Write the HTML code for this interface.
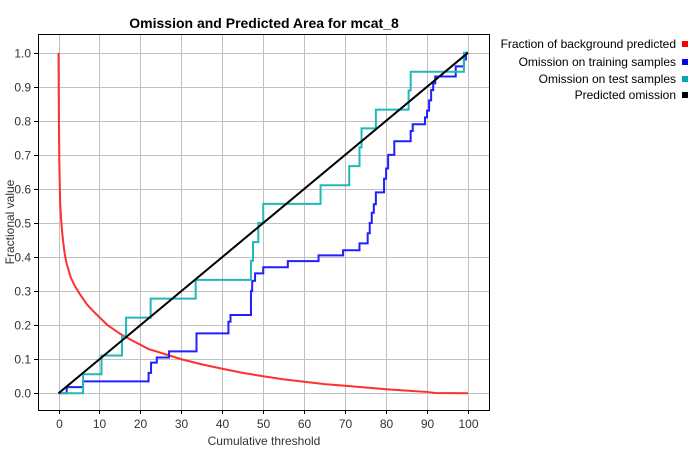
<!DOCTYPE html>
<html><head><meta charset="utf-8"><style>
body{margin:0;background:#fff;width:700px;height:450px;overflow:hidden;font-family:"Liberation Sans",sans-serif}
</style></head><body>
<svg id="s" width="700" height="450" xmlns="http://www.w3.org/2000/svg" font-family="Liberation Sans, sans-serif">
<rect width="700" height="450" fill="#fff"/>
<g id="grid" stroke="#c0c0c0" stroke-width="1"></g>
<g id="series" fill="none" stroke-width="2"></g>
<rect x="38.5" y="34.5" width="451" height="376" fill="none" stroke="#000" stroke-width="1"/>
<g id="ticks" stroke="#000"></g>
<g id="labels" font-size="12" fill="#333"></g>
<text x="264" y="28" font-size="14" font-weight="bold" text-anchor="middle">Omission and Predicted Area for mcat_8</text>
<text x="264" y="445" font-size="12" text-anchor="middle" fill="#333">Cumulative threshold</text>
<text transform="translate(14,222) rotate(-90)" font-size="12" text-anchor="middle" fill="#333">Fractional value</text>
<g font-size="12" text-anchor="end" fill="#000">
<text x="676" y="48">Fraction of background predicted</text>
<text x="676" y="66">Omission on training samples</text>
<text x="676" y="83">Omission on test samples</text>
<text x="676" y="99">Predicted omission</text>
</g>
<rect x="682" y="41" width="6" height="6" fill="#f00"/>
<rect x="682" y="59" width="6" height="6" fill="#00f"/>
<rect x="682" y="76" width="6" height="6" fill="#0aa"/>
<rect x="682" y="92" width="6" height="6" fill="#000"/>
</svg>
<script>
const X=v=>58.5+v*4.095, Y=v=>393.3-v*340.6;
const NS="http://www.w3.org/2000/svg";
function el(p,t,a,txt){const e=document.createElementNS(NS,t);for(const k in a)e.setAttribute(k,a[k]);if(txt!=null)e.textContent=txt;document.getElementById(p).appendChild(e);}
for(let i=0;i<=10;i++){const x=Math.round(X(i*10))+0.5;el('grid','line',{x1:x,x2:x,y1:35,y2:410});
el('ticks','line',{x1:x,x2:x,y1:410,y2:414});
el('labels','text',{x:x,y:428,'text-anchor':'middle'},String(i*10));
const y=Math.round(Y(i/10))+0.5;el('grid','line',{x1:39,x2:489,y1:y,y2:y});
el('ticks','line',{x1:34,x2:38,y1:y,y2:y});
el('labels','text',{x:31,y:y+4,'text-anchor':'end'},(i/10).toFixed(1));}
function step(pts){let d='M'+X(pts[0][0])+' '+Y(pts[0][1]);for(let i=1;i<pts.length;i++){d+=' L'+X(pts[i][0])+' '+Y(pts[i-1][1])+' L'+X(pts[i][0])+' '+Y(pts[i][1]);}return d;}
const red=[[0,1],[0.1,0.8],[0.2,0.68],[0.4,0.56],[0.7,0.5],[1,0.46],[1.5,0.41],[2,0.38],[3,0.34],[4,0.315],[5,0.295],[7,0.26],[9,0.235],[12,0.2],[15,0.175],[18,0.155],[22,0.13],[26,0.115],[30,0.1],[35,0.085],[40,0.072],[45,0.06],[50,0.05],[55,0.041],[60,0.034],[65,0.027],[70,0.022],[75,0.017],[80,0.012],[85,0.008],[90,0.004],[92,0.001],[100,0]];
el('series','path',{d:'M'+red.map(p=>X(p[0])+' '+Y(p[1])).join(' L'),stroke:'#ff3030'});
const blue=[[0,0],[2,0.018],[6,0.035],[22,0.06],[22.6,0.09],[24,0.105],[27,0.123],[33.7,0.176],[41.5,0.21],[42,0.23],[47,0.3],[47.3,0.33],[48,0.352],[50,0.37],[56,0.388],[63.5,0.405],[69.5,0.42],[73.5,0.44],[75.5,0.47],[76,0.5],[76.5,0.53],[77,0.555],[77.5,0.59],[79.5,0.63],[80,0.66],[80.5,0.7],[82,0.74],[86,0.77],[86.5,0.79],[89.5,0.81],[90,0.83],[90.5,0.86],[91,0.89],[91.5,0.91],[92,0.93],[97,0.96],[99,0.98],[99.5,1],[100,1]];
el('series','path',{d:step(blue),stroke:'#2020ff'});
const cyan=[[0,0],[6,0.056],[10.5,0.111],[15.5,0.167],[16.5,0.222],[22.5,0.278],[33.5,0.333],[47,0.389],[47.5,0.444],[48.8,0.5],[50,0.556],[64,0.611],[71,0.667],[73.5,0.722],[74,0.778],[77.5,0.833],[85.5,0.889],[86,0.944],[98.5,0.944],[99,1],[100,1]];
el('series','path',{d:step(cyan),stroke:'#20b8b8'});
el('series','line',{x1:X(0),y1:Y(0),x2:X(100),y2:Y(1),stroke:'#000'});
</script>
</body></html>
